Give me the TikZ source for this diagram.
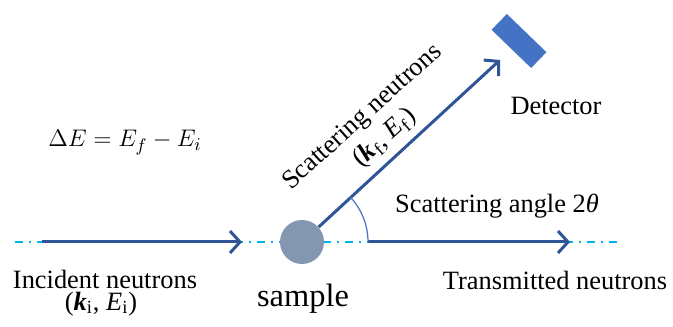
\documentclass[tikz,border=0pt]{standalone}
\usepackage{fontspec}
\setmainfont{Liberation Serif}
\usepackage{amsmath, amssymb}
\usetikzlibrary{arrows.meta, positioning}
\definecolor{beamblue}{RGB}{47,85,151}
\definecolor{axiscyan}{RGB}{0,176,240}
\definecolor{detblue}{RGB}{68,114,196}
\definecolor{samplegray}{RGB}{132,151,176}
\tikzset{beam/.style={ % Neutron beam arrows
           draw=beamblue,
           line width=1.5pt,
           -{Straight Barb[length=5pt,width=11pt,line width=1.5pt]}},
         axis/.style={    % Dash-dot beam axis
           draw=axiscyan,
           line width=0.9pt,
           dash pattern=on 4pt off 3pt on 1pt off 3pt},
         txt/.style={     % Plain labels
           inner sep=0pt,
           anchor=base,
           font=\fontsize{13.2}{15}\selectfont}}

\begin{document}
\begin{tikzpicture}[x=0.5pt, y=0.5pt]
\useasboundingbox (0,0) rectangle (673,326);

% beam axis
\coordinate (a0) at (15,84);
\coordinate (a1) at (620,84);
\draw[axis] (a0) -- (a1);

\node[circle, fill=samplegray, minimum size=22pt, inner sep=0pt] (sample) at (302,84) {};
\node[rectangle, fill=detblue, minimum width=27.5pt, minimum height=11pt,
      inner sep=0pt, rotate=-44] (det) at (519,285) {};

\coordinate (src)  at (42,84);
\coordinate (hit)  at (242,84);
\coordinate (tip)  at (500,266);
\coordinate (out)  at (368,84);
\coordinate (tend) at (570,84);

\draw[beam] (src) -- (hit);
\draw[beam] (sample.42.6) -- (tip);
\draw[beam] (out) -- (tend);

% scattering angle
\draw[detblue, line width=0.6pt] (out) arc[start angle=0, end angle=42.6, radius=66];

\node[txt] (inc)  at (105,38) {Incident neutrons};
\node[txt] (kin)  at (101,16) {(\textbf{\textit{k}}\textsubscript{i}, \textit{E}\textsubscript{i})};
\node[txt, font=\fontsize{16.2}{18}\selectfont] (lab) at (303,19) {sample};
\node[txt] (trans) at (555,36) {Transmitted neutrons};
\node[txt] (ang)  at (497,113) {Scattering angle 2\textit{θ}};
\node[txt] (dlab) at (556,211) {Detector};
\node[txt] (de)   at (125,179) {$\Delta E = E_f - E_i$};
\node[txt, rotate=42] (scat) at (367,204) {Scattering neutrons};
\node[txt, rotate=42] (kout) at (389,183) {(\textbf{\textit{k}}\textsubscript{f}, \textit{E}\textsubscript{f})};

\end{tikzpicture}
\end{document}
